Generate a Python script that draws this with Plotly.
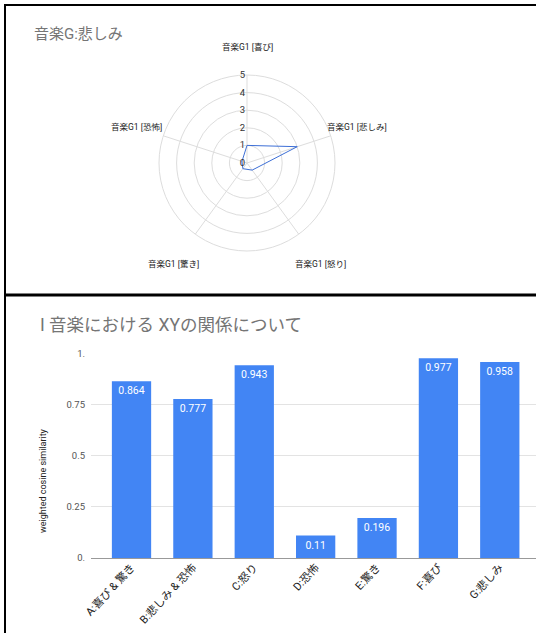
import math
import plotly.graph_objects as go

W, H = 536, 633

# ---- radar data ----
radar_title = "音楽G:悲しみ"
radar_axes = ["音楽G1 [喜び]", "音楽G1 [悲しみ]", "音楽G1 [怒り]", "音楽G1 [驚き]", "音楽G1 [恐怖]"]
radar_values = [1.0, 3.0, 0.5, 0.4, 0.3]
radial_ticks = [0, 1, 2, 3, 4, 5]

# ---- bar data ----
bar_title = "I 音楽における XYの関係について"
bar_categories = ["A:喜び & 驚き", "B:悲しみ & 恐怖", "C:怒り", "D:恐怖", "E:驚き", "F:喜び", "G:悲しみ"]
bar_values = [0.864, 0.777, 0.943, 0.11, 0.196, 0.977, 0.958]
bar_labels = ["0.864", "0.777", "0.943", "0.11", "0.196", "0.977", "0.958"]
y_tickvals = [0, 0.25, 0.5, 0.75, 1]
y_ticktext = ["0.", "0.25", "0.5", "0.75", "1."]
y_title = "weighted cosine similarity"

FONT = "Roboto, 'Noto Sans CJK JP', sans-serif"

def px_x(x):
    return x / W

def px_y(y):
    return 1 - y / H

# polar placement (pixels)
cx, cy, R = 247, 163, 88

fig = go.Figure()

fig.add_trace(go.Scatterpolar(
    r=radar_values + radar_values[:1],
    theta=radar_axes + radar_axes[:1],
    mode="lines",
    line=dict(color="#3d6fd6", width=1),
    showlegend=False,
    subplot="polar",
))

fig.add_trace(go.Bar(
    x=bar_categories,
    y=bar_values,
    text=bar_labels,
    textposition="inside",
    insidetextanchor="end",
    textfont=dict(color="white", size=10.5, family=FONT),
    constraintext="none",
    marker=dict(color="#4285f4", line=dict(width=0)),
    showlegend=False,
    xaxis="x", yaxis="y",
))

annotations = []
# radar title
annotations.append(dict(text=radar_title, x=px_x(32), y=px_y(34), xref="paper", yref="paper",
                        xanchor="left", yanchor="middle", showarrow=False,
                        font=dict(size=15, color="#757575", family=FONT)))
# radar angular labels
for i, lab in enumerate(radar_axes):
    ang = math.radians(90 - 72 * i)
    rr = 116 if math.sin(ang) > -0.1 else 125
    lx = cx + rr * math.cos(ang)
    ly = cy - rr * math.sin(ang)
    annotations.append(dict(text=lab, x=px_x(lx), y=px_y(ly), xref="paper", yref="paper",
                            xanchor="center", yanchor="middle", showarrow=False,
                            font=dict(size=8.5, color="#222222", family=FONT)))
# bar title
annotations.append(dict(text=bar_title, x=px_x(38), y=px_y(325), xref="paper", yref="paper",
                        xanchor="left", yanchor="middle", showarrow=False,
                        font=dict(size=17.5, color="#757575", family=FONT)))
# y axis title
annotations.append(dict(text=y_title, x=px_x(43), y=px_y(481), xref="paper", yref="paper",
                        xanchor="center", yanchor="middle", showarrow=False, textangle=-90,
                        font=dict(size=9, color="#222222", family=FONT)))

shapes = [
    dict(type="line", xref="paper", yref="paper", x0=px_x(5), x1=px_x(5), y0=px_y(4), y1=0,
         line=dict(color="black", width=2)),
    dict(type="line", xref="paper", yref="paper", x0=px_x(4), x1=1, y0=px_y(5), y1=px_y(5),
         line=dict(color="black", width=2)),
    dict(type="line", xref="paper", yref="paper", x0=px_x(4), x1=1, y0=px_y(295), y1=px_y(295),
         line=dict(color="black", width=3)),
]

fig.update_layout(
    width=W, height=H,
    margin=dict(l=0, r=0, t=0, b=0, autoexpand=False),
    paper_bgcolor="white",
    plot_bgcolor="white",
    font=dict(family=FONT),
    polar=dict(
        domain=dict(x=[px_x(cx - R), px_x(cx + R)], y=[px_y(cy + R), px_y(cy - R)]),
        bgcolor="white",
        radialaxis=dict(range=[0, 5], tickvals=radial_ticks, angle=90, side="counterclockwise",
                        showline=False, gridcolor="#dddddd", gridwidth=1, ticks="",
                        tickangle=90,
                        tickfont=dict(size=9.5, color="#333333", family=FONT)),
        angularaxis=dict(direction="clockwise", rotation=90, showticklabels=False, ticks="",
                         gridcolor="#dddddd", linecolor="#dddddd", linewidth=1),
    ),
    xaxis=dict(domain=[px_x(91), 1], range=[-0.66, 6.59], tickangle=-47,
               tickfont=dict(size=11, color="#222222", family=FONT), showgrid=False,
               showline=False, ticks="", anchor="y", automargin=False),
    yaxis=dict(domain=[px_y(558), px_y(353.5)], range=[0, 1], tickvals=y_tickvals, ticktext=y_ticktext,
               tickfont=dict(size=9.5, color="#555555", family=FONT), gridcolor="#e3e3e3",
               zeroline=True, zerolinecolor="#999999", zerolinewidth=1, showline=False, ticks="",
               ticklabelstandoff=5, anchor="x", automargin=False),
    bargap=0.36,
    annotations=annotations,
    shapes=shapes,
)

fig.write_html("out.html")
